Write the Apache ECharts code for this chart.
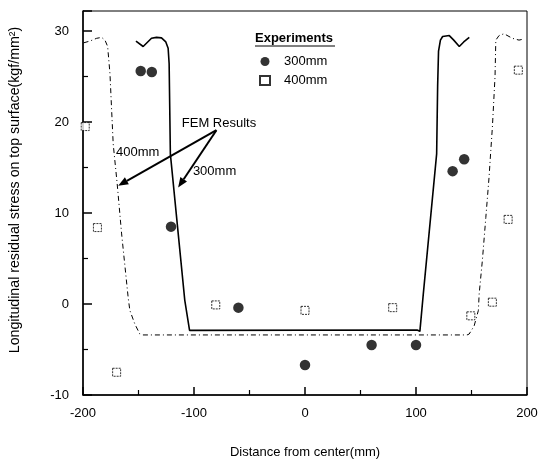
<!DOCTYPE html>
<html>
<head>
<meta charset="utf-8">
<script src="https://cdn.jsdelivr.net/npm/echarts@6/dist/echarts.min.js"></script>
<style>
  html, body { margin: 0; padding: 0; background: #fff; }
  #chart { width: 540px; height: 460px; }
</style>
</head>
<body>
<div id="chart"></div>
<script>
// experiments
const exp300 = [[-148, 25.6], [-138, 25.5], [-120.7, 8.5], [-60, -0.4], [0, -6.7], [60, -4.5], [100, -4.5], [133, 14.6], [143.4, 15.9]];
const exp400 = [[-198, 19.5], [-187, 8.4], [-169.7, -7.5], [-80.4, -0.1], [0, -0.7], [79, -0.4], [149.4, -1.3], [168.8, 0.2], [183, 9.3], [192.2, 25.7]];

// FEM results
const fem300 = [
  [-152.3, 28.9], [-145.8, 28.3], [-138.3, 29.2], [-133.8, 29.3], [-129.3, 29.25], [-125.4, 28.8],
  [-123.3, 28.1], [-122.4, 26.4], [-121.3, 16.5], [-108.3, 0.4], [-104, -2.9],
  [101, -2.85], [103.5, -3.0], [106.5, 1.0], [118.6, 16.5], [119.5, 24], [120.3, 27.8],
  [122, 29], [124, 29.4], [130, 29.5], [134, 29], [139, 28.3], [143, 28.8], [148, 29.3]
];
const fem400 = [
  [-199.5, 28.7], [-193.7, 28.9], [-187.7, 29.2], [-183.2, 29.3], [-180.2, 29], [-177.8, 28.3],
  [-175.7, 25.3], [-174.2, 21.3], [-172.8, 17.6], [-169.2, 13.2], [-165.2, 7.7], [-159.3, 0.7],
  [-157.8, -0.7], [-153.3, -2.2], [-148.8, -3.3], [-146, -3.4],
  [146, -3.4], [147.9, -3.3], [152.4, -2.4], [156.2, -0.7], [156.9, 1.1], [159.8, 4.8],
  [162.9, 9.5], [165.8, 13.9], [167.4, 16.9], [168.8, 19.4], [171.2, 25], [171.9, 29],
  [174.8, 29.5], [179.3, 29.7], [186.8, 29.2], [192.8, 29], [196.4, 29.1]
];

const xTicks = [-200, -100, 0, 100, 200];
const yTicks = [-10, 0, 10, 20, 30];

const FONT = 'Liberation Sans, Arial, sans-serif';

let chart = echarts.init(document.getElementById('chart'));

const option = {
  backgroundColor: '#fff',
  animation: false,
  grid: {
    left: 83,
    right: 13,
    top: 11,
    bottom: 65,
    outerBoundsMode: 'none',
    show: true,
    borderColor: '#000',
    borderWidth: 1
  },
  legend: {
    data: ['300mm', '400mm'],
    orient: 'vertical',
    left: 254,
    top: 50,
    itemWidth: 10,
    itemHeight: 9,
    itemGap: 6,
    textStyle: {
      fontFamily: FONT,
      fontSize: 13,
      color: '#000',
      padding: [0, 0, 0, 9]
    }
  },
  xAxis: {
    type: 'value',
    min: -200,
    max: 200,
    interval: 100,
    name: 'Distance from center(mm)',
    nameLocation: 'middle',
    nameGap: 51,
    nameTextStyle: { fontFamily: FONT, fontSize: 13, color: '#000' },
    axisLine: { onZero: false, lineStyle: { color: '#000', width: 1.5 } },
    axisTick: { inside: true, length: 8, lineStyle: { color: '#000', width: 1.5 } },
    minorTick: { show: true, splitNumber: 2, length: 5, lineStyle: { color: '#000', width: 1.2 } },
    splitLine: { show: false },
    axisLabel: {
      fontFamily: FONT, fontSize: 13, color: '#000', margin: 12,
      formatter: v => xTicks.includes(v) ? String(v) : ''
    }
  },
  yAxis: {
    type: 'value',
    min: -10,
    max: 32.2,
    interval: 10,
    name: 'Longitudinal residual stress on top surface(kgf/mm²)',
    nameLocation: 'middle',
    nameGap: 61,
    nameTextStyle: { fontFamily: FONT, fontSize: 14.2, color: '#000', padding: [0, 0, 0, 26] },
    axisLine: { onZero: false, lineStyle: { color: '#000', width: 1.5 } },
    axisTick: { inside: true, length: 9, lineStyle: { color: '#000', width: 1.5 } },
    minorTick: { show: true, splitNumber: 2, length: 5, lineStyle: { color: '#000', width: 1.2 } },
    splitLine: { show: false },
    axisLabel: {
      fontFamily: FONT, fontSize: 13, color: '#000', margin: 14,
      formatter: v => yTicks.includes(v) ? String(v) : ''
    }
  },
  series: [
    {
      name: 'FEM 300mm',
      type: 'line',
      data: fem300,
      showSymbol: false,
      lineStyle: { color: '#000', width: 1.6 },
      z: 2
    },
    {
      name: 'FEM 400mm',
      type: 'line',
      data: fem400,
      showSymbol: false,
      lineStyle: { color: '#000', width: 1, type: [5, 3, 1, 3] },
      z: 2
    },
    {
      name: '300mm',
      type: 'scatter',
      data: exp300,
      symbol: 'circle',
      symbolSize: 10.5,
      itemStyle: { color: '#000' },
      z: 3
    },
    {
      name: '400mm',
      type: 'scatter',
      data: exp400,
      symbol: 'rect',
      symbolSize: 8,
      itemStyle: { color: '#fff', borderColor: '#000', borderWidth: 1, borderType: [2, 1] },
      z: 3
    }
  ]
};

chart.setOption(option);

// annotations in data coordinates
const arrowFrom = [-79.8, 19.1];
const arrowTo400 = [-168.3, 13.0];
const arrowTo300 = [-114.3, 12.8];
const px = p => chart.convertToPixel({ gridIndex: 0 }, p);

function arrow(a, b) {
  const A = px(a), B = px(b);
  const ang = Math.atan2(B[1] - A[1], B[0] - A[0]);
  const L = 10, W = 4;
  const bx = B[0] - L * Math.cos(ang), by = B[1] - L * Math.sin(ang);
  return [
    { type: 'line', shape: { x1: A[0], y1: A[1], x2: bx, y2: by }, style: { stroke: '#000', lineWidth: 2 } },
    {
      type: 'polygon',
      shape: { points: [B, [bx + W * Math.sin(ang), by - W * Math.cos(ang)], [bx - W * Math.sin(ang), by + W * Math.cos(ang)]] },
      style: { fill: '#000' }
    }
  ];
}

const tFem = px([-111, 19.9]);
const t400 = px([-170.3, 16.7]);
const t300 = px([-101, 14.6]);

chart.setOption({
  graphic: [
    ...arrow(arrowFrom, arrowTo400),
    ...arrow(arrowFrom, arrowTo300),
    { type: 'text', x: tFem[0], y: tFem[1], style: { text: 'FEM Results', font: '13px ' + FONT, fill: '#000', verticalAlign: 'middle' } },
    { type: 'text', x: t400[0], y: t400[1], style: { text: '400mm', font: '13px ' + FONT, fill: '#000', verticalAlign: 'middle', backgroundColor: '#fff' } },
    { type: 'text', x: t300[0], y: t300[1], style: { text: '300mm', font: '13px ' + FONT, fill: '#000', verticalAlign: 'middle' } },
    { type: 'text', x: 255, y: 38, style: { text: 'Experiments', font: 'bold 13px ' + FONT, fill: '#000', verticalAlign: 'middle' } },
    { type: 'line', shape: { x1: 255, y1: 46, x2: 335, y2: 46 }, style: { stroke: '#000', lineWidth: 1 } }
  ]
});
</script>
</body>
</html>
